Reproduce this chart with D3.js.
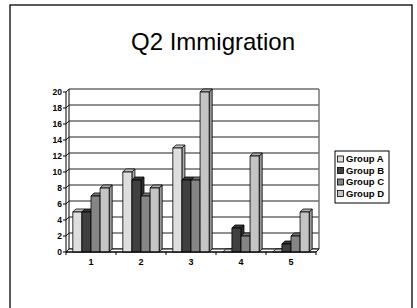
<!DOCTYPE html>
<html lang="en">
<head>
<meta charset="UTF-8">
<title>Q2 Immigration</title>
<script src="https://cdnjs.cloudflare.com/ajax/libs/d3/7.8.5/d3.min.js"></script>
<style>
    body { margin: 0; background: #fff; }
    svg { display: block; font-family: "Liberation Sans", Arial, sans-serif; }
    .tick-label { font-size: 8.5px; font-weight: bold; fill: #000; }
    .legend-label { font-size: 9.5px; font-weight: bold; fill: #000; }
</style>
</head>
<body>
<div id="chart"></div>
<script>
    // data
    const categories = ["1", "2", "3", "4", "5"];
    const seriesNames = ["Group A", "Group B", "Group C", "Group D"];
    const groupA = [5, 10, 13, 0, 0];
    const groupB = [5, 9, 9, 3, 1];
    const groupC = [7, 7, 9, 2, 2];
    const groupD = [8, 8, 20, 12, 5];
    const yTicks = [0, 2, 4, 6, 8, 10, 12, 14, 16, 18, 20];

    const seriesValues = [groupA, groupB, groupC, groupD];
    const colors = ["#dedede", "#404040", "#858585", "#c4c4c4"];

    const W = 417, H = 308;
    const depth = 3; // 3d offset

    const svg = d3.select("#chart").append("svg")
        .attr("width", W).attr("height", H);

    // slide frame
    svg.append("rect")
        .attr("x", 10).attr("y", 5)
        .attr("width", 402).attr("height", 320)
        .attr("fill", "none").attr("stroke", "#000").attr("stroke-width", 1.3);

    svg.append("text")
        .attr("x", 213).attr("y", 50)
        .attr("text-anchor", "middle")
        .style("font-size", "24px")
        .text("Q2 Immigration");

    const x0 = d3.scaleBand().domain(categories).range([66, 316])
        .paddingInner(1.5 / 5.5).paddingOuter(0.75 / 5.5);
    const x1 = d3.scaleBand().domain(seriesNames).range([0, x0.bandwidth()]);
    const y = d3.scaleLinear().domain([0, 20]).range([252, 92]);

    const left = 66, right = 316, y0 = y(0), yTop = y(20);

    // back wall
    svg.append("rect")
        .attr("x", left + depth).attr("y", yTop - depth)
        .attr("width", right - left).attr("height", y0 - yTop)
        .attr("fill", "#fff").attr("stroke", "none");

    // gridlines
    yTicks.forEach(t => {
        const yy = y(t);
        svg.append("path")
            .attr("d", `M${left},${yy}L${left + depth},${yy - depth}L${right + depth},${yy - depth}`)
            .attr("fill", "none").attr("stroke", "#222").attr("stroke-width", 1);
    });
    // wall edges
    svg.append("line")
        .attr("x1", left + depth).attr("x2", left + depth)
        .attr("y1", yTop - depth).attr("y2", y0 - depth)
        .attr("stroke", "#000");
    svg.append("line")
        .attr("x1", right + depth).attr("x2", right + depth)
        .attr("y1", yTop - depth).attr("y2", y0 - depth)
        .attr("stroke", "#777").attr("stroke-width", 1.5);

    // floor
    svg.append("path")
        .attr("d", `M${left},${y0}L${right},${y0}L${right + depth},${y0 - depth}L${left + depth},${y0 - depth}Z`)
        .attr("fill", "#fff").attr("stroke", "#000").attr("stroke-width", 1);

    // bars
    categories.forEach((c, ci) => {
        seriesNames.forEach((s, si) => {
            const v = seriesValues[si][ci];
            const bx = x0(c) + x1(s), bw = x1.bandwidth(), by = y(v);
            const col = d3.color(colors[si]);
            const g = svg.append("g").attr("stroke", "#000").attr("stroke-width", 0.8).attr("stroke-linejoin", "round");
            g.append("path")
                .attr("d", `M${bx + bw},${by}L${bx + bw + depth},${by - depth}L${bx + bw + depth},${y0 - depth}L${bx + bw},${y0}Z`)
                .attr("fill", col.darker(0.7));
            g.append("path")
                .attr("d", `M${bx},${by}L${bx + depth},${by - depth}L${bx + bw + depth},${by - depth}L${bx + bw},${by}Z`)
                .attr("fill", col.darker(0.3));
            g.append("rect")
                .attr("x", bx).attr("y", by)
                .attr("width", bw).attr("height", y0 - by)
                .attr("fill", col);
        });
    });

    // value axis
    const yAxis = svg.append("g");
    yAxis.append("line")
        .attr("x1", left).attr("x2", left).attr("y1", y0).attr("y2", yTop)
        .attr("stroke", "#000");
    yTicks.forEach(t => {
        yAxis.append("line")
            .attr("x1", left - 3).attr("x2", left).attr("y1", y(t)).attr("y2", y(t))
            .attr("stroke", "#000");
        yAxis.append("text")
            .attr("class", "tick-label")
            .attr("x", left - 4).attr("y", y(t)).attr("dy", "0.35em")
            .attr("text-anchor", "end")
            .text(t);
    });

    // category axis
    const xAxis = svg.append("g");
    xAxis.append("line")
        .attr("x1", left).attr("x2", right).attr("y1", y0).attr("y2", y0)
        .attr("stroke", "#000");
    categories.forEach((c, i) => {
        const bx = x0(c) - x0.step() * x0.paddingInner() / 2;
        xAxis.append("line")
            .attr("x1", bx).attr("x2", bx).attr("y1", y0).attr("y2", y0 + 3)
            .attr("stroke", "#000");
        xAxis.append("text")
            .attr("class", "tick-label")
            .style("font-size", "9px")
            .attr("x", x0(c) + x0.bandwidth() / 2).attr("y", 265)
            .attr("text-anchor", "middle")
            .text(c);
    });
    xAxis.append("line")
        .attr("x1", right).attr("x2", right).attr("y1", y0).attr("y2", y0 + 3)
        .attr("stroke", "#000");

    // legend
    const legend = svg.append("g").attr("transform", "translate(335,151)");
    legend.append("rect")
        .attr("width", 54).attr("height", 52)
        .attr("fill", "#fff").attr("stroke", "#000").attr("stroke-width", 1);
    seriesNames.forEach((s, i) => {
        const ly = 8 + i * 11.5;
        legend.append("rect")
            .attr("x", 2.5).attr("y", ly - 3).attr("width", 6).attr("height", 6)
            .attr("fill", colors[i]).attr("stroke", "#000").attr("stroke-width", 0.8);
        legend.append("text")
            .attr("class", "legend-label")
            .attr("x", 11).attr("y", ly).attr("dy", "0.35em")
            .text(s);
    });
</script>
</body>
</html>
